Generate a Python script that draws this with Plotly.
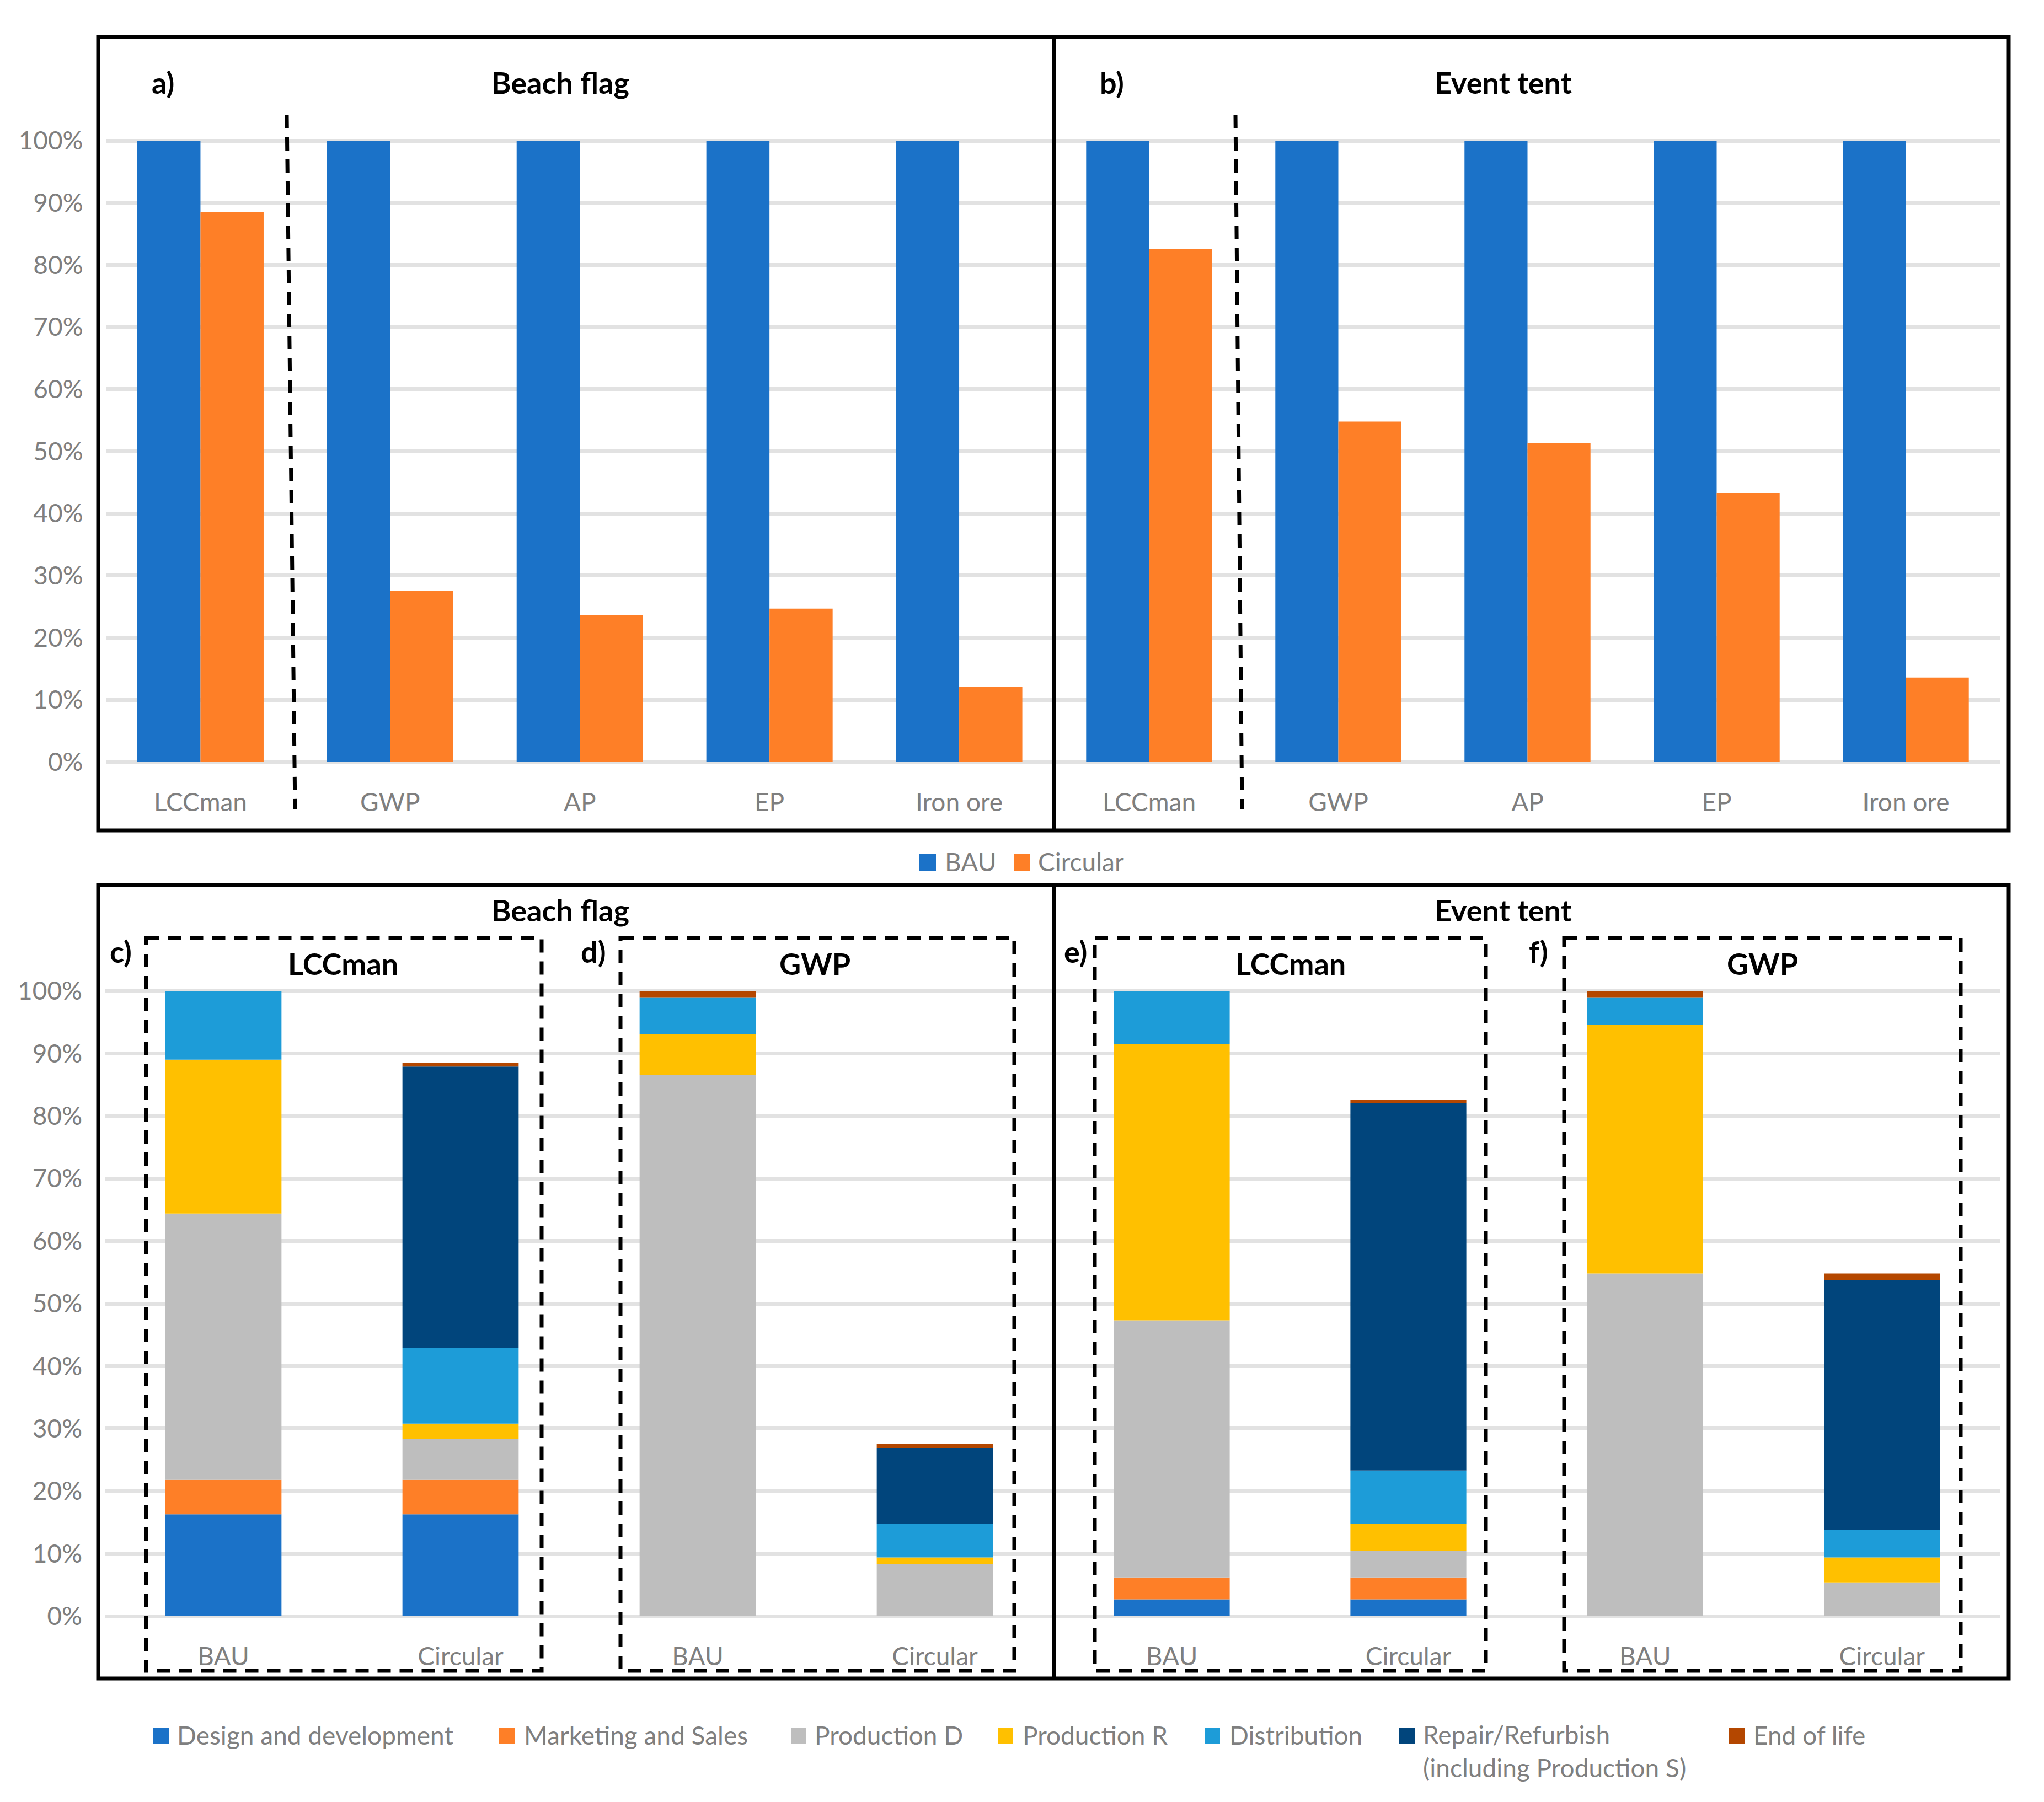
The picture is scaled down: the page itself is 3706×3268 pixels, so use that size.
import plotly.graph_objects as go
import numpy as np

W, H = 3706, 3268
OFF = 8  # default page body margin
FW, FH = W - 2 * OFF, H - 2 * OFF

# ---------------- DATA ----------------
top_categories = ["LCCman", "GWP", "AP", "EP", "Iron ore"]
top_series = ["BAU", "Circular"]
beach_flag_bau = [1.0, 1.0, 1.0, 1.0, 1.0]
beach_flag_circular = [0.885, 0.276, 0.236, 0.247, 0.121]
event_tent_bau = [1.0, 1.0, 1.0, 1.0, 1.0]
event_tent_circular = [0.826, 0.548, 0.513, 0.433, 0.136]

stages = ["Design and development", "Marketing and Sales", "Production D",
          "Production R", "Distribution",
          "Repair/Refurbish<br>(including Production S)", "End of life"]
scenarios = ["BAU", "Circular"]

# stage shares, order as in `stages`
flag_lcc_bau = [0.163, 0.055, 0.426, 0.246, 0.110, 0.0, 0.0]
flag_lcc_circ = [0.163, 0.055, 0.065, 0.025, 0.121, 0.450, 0.006]
flag_gwp_bau = [0.0, 0.0, 0.865, 0.066, 0.058, 0.0, 0.011]
flag_gwp_circ = [0.0, 0.0, 0.083, 0.011, 0.054, 0.121, 0.007]
tent_lcc_bau = [0.027, 0.035, 0.411, 0.442, 0.085, 0.0, 0.0]
tent_lcc_circ = [0.027, 0.035, 0.042, 0.044, 0.085, 0.587, 0.006]
tent_gwp_bau = [0.0, 0.0, 0.548, 0.398, 0.043, 0.0, 0.011]
tent_gwp_circ = [0.0, 0.0, 0.054, 0.040, 0.044, 0.400, 0.010]

y_tickvals = [0.0, 0.1, 0.2, 0.3, 0.4, 0.5, 0.6, 0.7, 0.8, 0.9, 1.0]
y_ticktext = ["0%", "10%", "20%", "30%", "40%", "50%", "60%", "70%", "80%", "90%", "100%"]

# ---------------- STYLE ----------------
C_BAU = "#1B72C8"
C_CIRC = "#FE7F27"
stage_colors = ["#1B72C8", "#FE7F27", "#BEBEBE", "#FFC000", "#1D9CD8", "#01457C", "#B44700"]
GRID = "#E2E2E2"
GREY = "#7F7F7F"
FONT = "Lato, Carlito, 'Open Sans', sans-serif"
TICK_SIZE = 46
BOLD_SIZE = 54


def px(x):
    return (x - OFF) / FW


def py(y):
    return 1 - (y - OFF) / FH


def ydomain(zero_px, hundred_px, r0, r1):
    per = (zero_px - hundred_px)
    bottom = zero_px - r0 * per
    top = hundred_px - (r1 - 1) * per
    return [py(bottom), py(top)]


R0, R1 = -0.01, 1.05
top_ydom = ydomain(1382, 255, R0, R1)
bot_ydom = ydomain(2931, 1797, R0, R1)

fig = go.Figure()

# top grouped bars
for xa, ya, bau, circ in [("x", "y", beach_flag_bau, beach_flag_circular),
                          ("x2", "y2", event_tent_bau, event_tent_circular)]:
    fig.add_trace(go.Bar(x=top_categories, y=bau, name=top_series[0], marker_color=C_BAU,
                         marker_line_width=0, xaxis=xa, yaxis=ya, showlegend=False))
    fig.add_trace(go.Bar(x=top_categories, y=circ, name=top_series[1], marker_color=C_CIRC,
                         marker_line_width=0, xaxis=xa, yaxis=ya, showlegend=False))

# bottom stacked bars
panels = [("x3", "y3", flag_lcc_bau, flag_lcc_circ),
          ("x4", "y4", flag_gwp_bau, flag_gwp_circ),
          ("x5", "y5", tent_lcc_bau, tent_lcc_circ),
          ("x6", "y6", tent_gwp_bau, tent_gwp_circ)]
for xa, ya, bau, circ in panels:
    cb = np.concatenate([[0], np.cumsum(bau)[:-1]])
    cc = np.concatenate([[0], np.cumsum(circ)[:-1]])
    for i, st in enumerate(stages):
        fig.add_trace(go.Bar(x=scenarios, y=[bau[i], circ[i]], base=[cb[i], cc[i]],
                             name=st, marker_color=stage_colors[i], marker_line_width=0,
                             offsetgroup="s", width=0.49, xaxis=xa, yaxis=ya,
                             showlegend=False))

axis_font = dict(family=FONT, size=TICK_SIZE, color=GREY)


def xax(d0, d1, anchor):
    return dict(domain=[px(d0), px(d1)], anchor=anchor, showgrid=False, zeroline=False,
                showline=False, ticks="", tickfont=axis_font, ticklabelstandoff=31,
                fixedrange=True)


def yax(dom, anchor, labels):
    return dict(domain=dom, anchor=anchor, range=[R0, R1], tickvals=y_tickvals,
                ticktext=y_ticktext, showticklabels=labels, showgrid=True, gridcolor=GRID,
                gridwidth=6.5, zeroline=False, showline=False, ticks="", tickfont=axis_font,
                ticklabelstandoff=40)


fig.update_layout(
    width=FW, height=FH, margin=dict(l=0, r=0, t=0, b=0),
    template="none", paper_bgcolor="white", plot_bgcolor="rgba(0,0,0,0)",
    barmode="group", bargap=0.334, bargroupgap=0, showlegend=False,
    font=dict(family=FONT),
    xaxis=xax(191.5, 1911, "y"), yaxis=yax(top_ydom, "x", True),
    xaxis2=xax(1912, 3627, "y2"), yaxis2=yax(top_ydom, "x2", False),
    xaxis3=xax(190, 1050, "y3"), yaxis3=yax(bot_ydom, "x3", True),
    xaxis4=xax(1050, 1910, "y4"), yaxis4=yax(bot_ydom, "x4", False),
    xaxis5=xax(1910, 2768, "y5"), yaxis5=yax(bot_ydom, "x5", False),
    xaxis6=xax(2768, 3627, "y6"), yaxis6=yax(bot_ydom, "x6", False),
)

shapes = []


def line(x0, y0, x1, y1, w=7, dash=None):
    d = dict(type="line", xref="paper", yref="paper", x0=px(x0), y0=py(y0), x1=px(x1), y1=py(y1),
             line=dict(color="black", width=w))
    if dash:
        d["line"]["dash"] = dash
    shapes.append(d)


def rect(x0, y0, x1, y1, w=7, dash=None):
    d = dict(type="rect", xref="paper", yref="paper", x0=px(x0), y0=py(y0), x1=px(x1), y1=py(y1),
             line=dict(color="black", width=w), fillcolor="rgba(0,0,0,0)")
    if dash:
        d["line"]["dash"] = dash
    shapes.append(d)


DASH = "24px,16px"
# frames
rect(178, 67, 3642, 1506)
rect(178, 1605, 3642, 3044)
line(1911, 67, 1911, 1506)
line(1911, 1605, 1911, 3044)
# dashed separators in top panels
line(520, 209, 535, 1468, dash=DASH)
line(2240, 209, 2252, 1468, dash=DASH)
# dashed boxes bottom
for (a, b) in [(264.5, 982), (1125, 1839), (1985, 2694), (2836, 3555)]:
    rect(a, 1701, b, 3030, dash=DASH)

# legend swatches (top)
top_leg = [(1667, 1711, C_BAU, top_series[0]), (1838, 1880, C_CIRC, top_series[1])]
for sx, tx, col, lab in top_leg:
    shapes.append(dict(type="rect", xref="paper", yref="paper", x0=px(sx), x1=px(sx + 30),
                       y0=py(1549), y1=py(1579), fillcolor=col, line=dict(width=0)))

bot_marker_x = [278, 905, 1434, 1809, 2184, 2537, 3135]
bot_text_x = [319, 948, 1475, 1852, 2227, 2578, 3177]
for i, st in enumerate(stages):
    shapes.append(dict(type="rect", xref="paper", yref="paper", x0=px(bot_marker_x[i]),
                       x1=px(bot_marker_x[i] + 28), y0=py(3134), y1=py(3163),
                       fillcolor=stage_colors[i], line=dict(width=0)))

fig.update_layout(shapes=shapes)

ann = []


def text(x, y, s, size=BOLD_SIZE, bold=True, color="black", xanchor="center", yanchor="middle",
         align="center"):
    ann.append(dict(xref="paper", yref="paper", x=px(x), y=py(y), text=(f"<b>{s}</b>" if bold else s),
                    showarrow=False, xanchor=xanchor, yanchor=yanchor, align=align,
                    font=dict(family=FONT, size=size, color=color)))


text(295, 149, "a)")
text(1016, 149, "Beach flag")
text(2016, 149, "b)")
text(2725, 149, "Event tent")
text(1016, 1650, "Beach flag")
text(2725, 1650, "Event tent")
text(219, 1725, "c)")
text(622, 1747, "LCCman")
text(1075, 1725, "d)")
text(1477, 1747, "GWP")
text(1950, 1725, "e)")
text(2340, 1747, "LCCman")
text(2789, 1725, "f)")
text(3195, 1747, "GWP")

for sx, tx, col, lab in top_leg:
    text(tx, 1562, lab, size=TICK_SIZE, bold=False, color=GREY, xanchor="left")

for i, st in enumerate(stages):
    if "<br>" in st:
        text(bot_text_x[i], 3116, st, size=TICK_SIZE, bold=False, color=GREY, xanchor="left",
             yanchor="top", align="left")
    else:
        text(bot_text_x[i], 3146, st, size=TICK_SIZE, bold=False, color=GREY, xanchor="left")

fig.update_layout(annotations=ann)

fig.write_html("out.html")
